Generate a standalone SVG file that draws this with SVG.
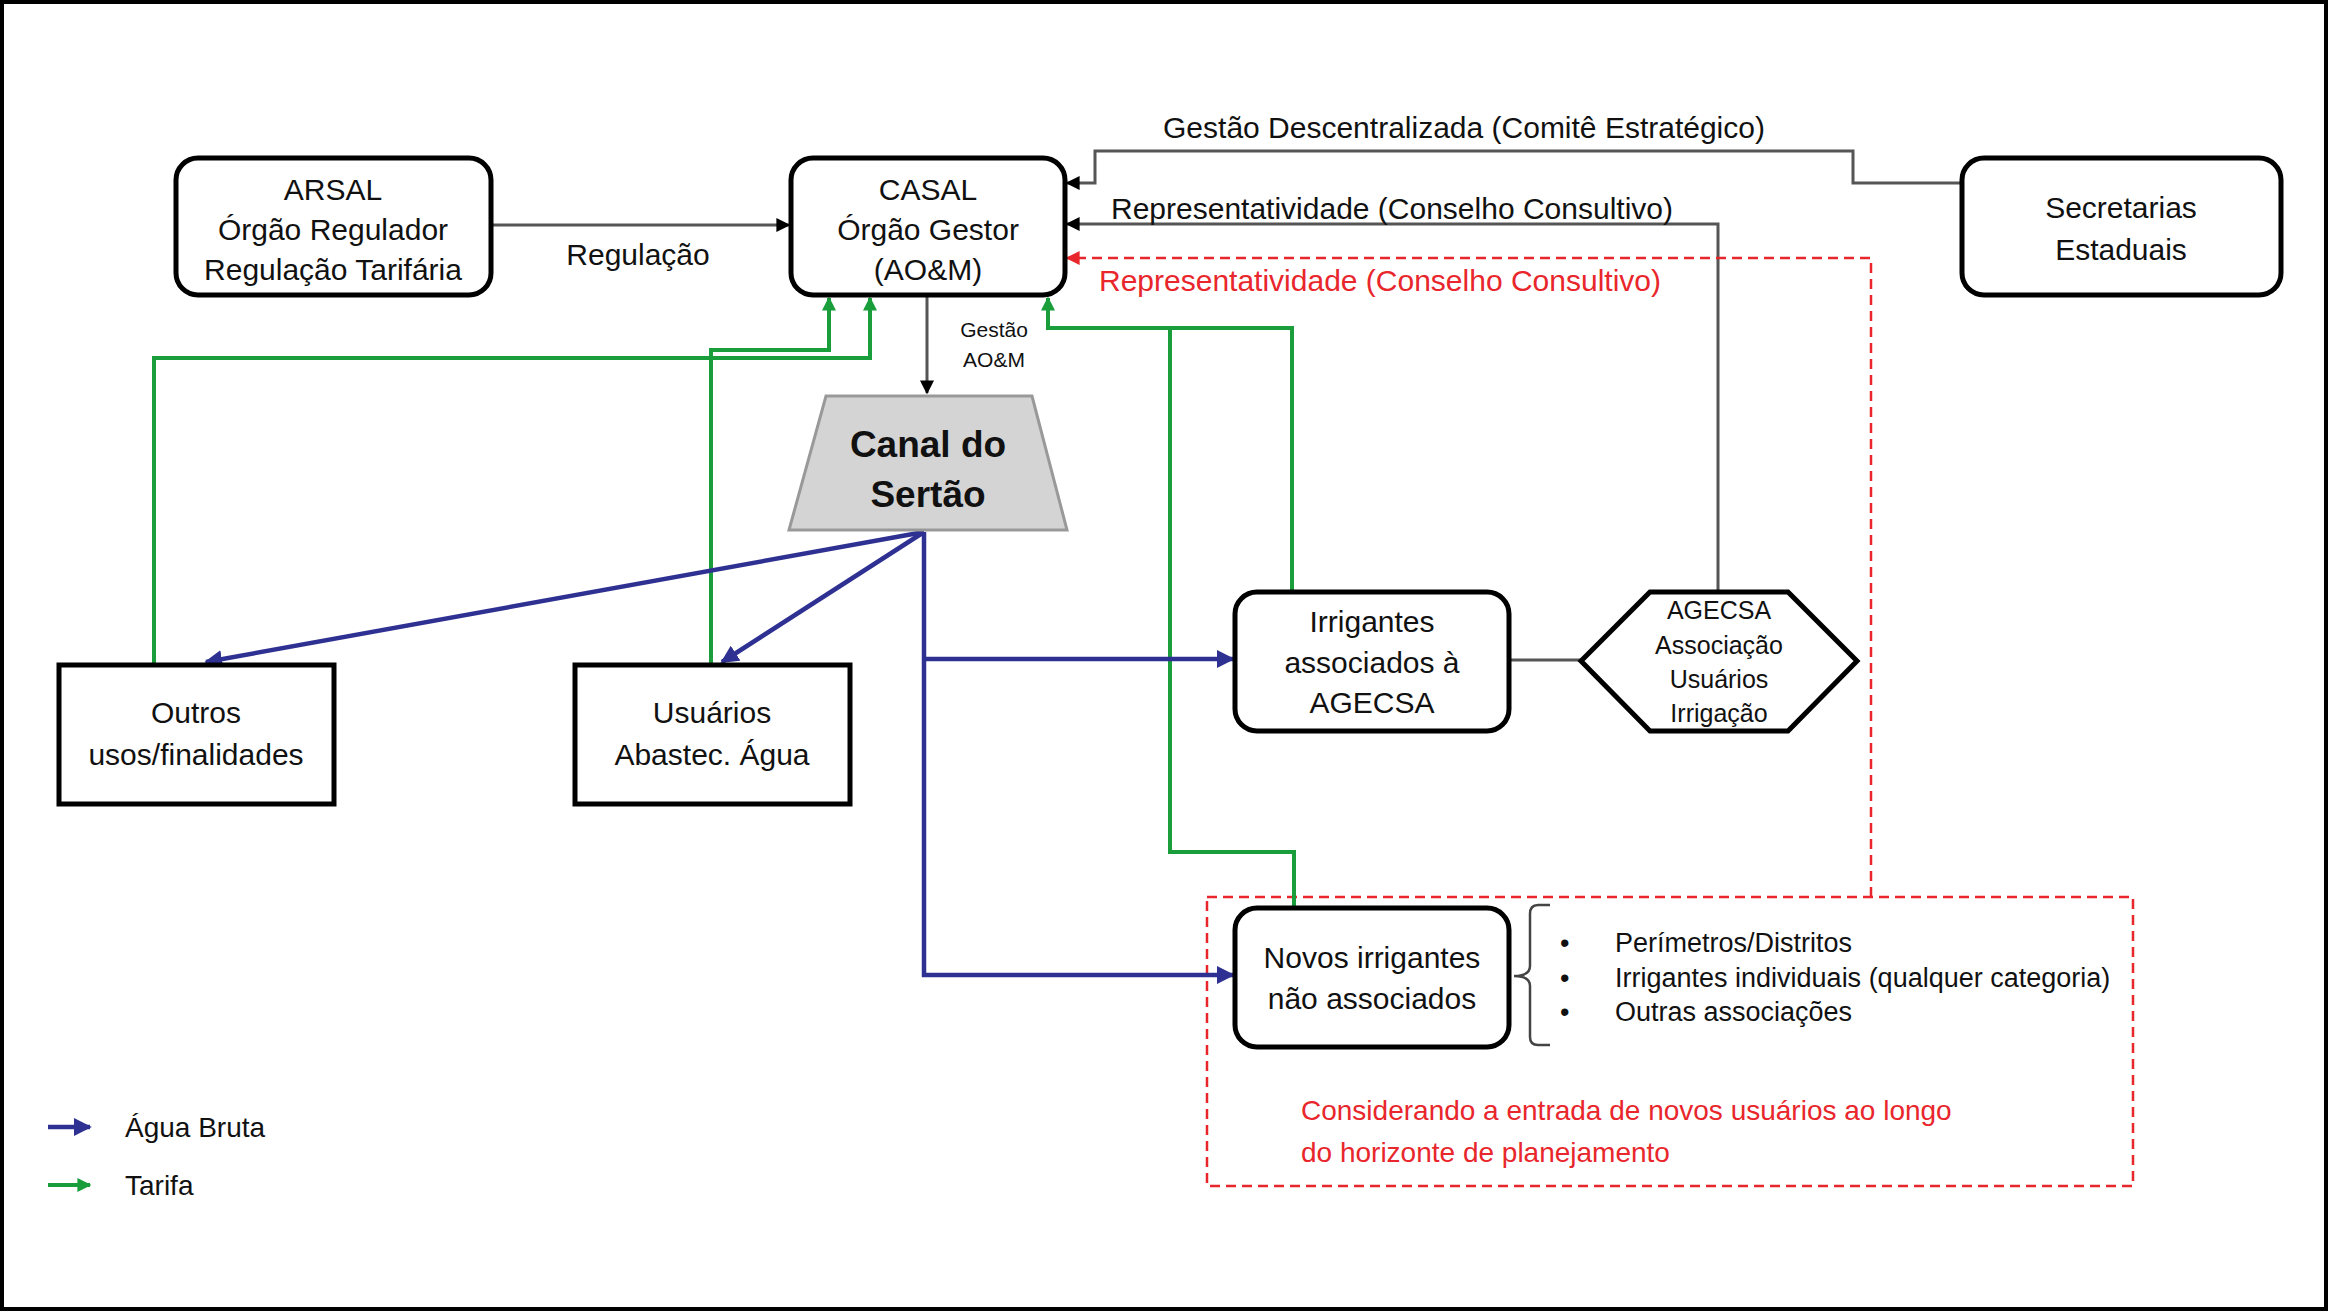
<svg xmlns="http://www.w3.org/2000/svg" width="2328" height="1312" viewBox="0 0 2328 1312">
<style>
.t{font-family:"Liberation Sans",Arial,sans-serif;font-size:30px;fill:#111;text-anchor:middle}
.s{font-size:27px;text-anchor:start}
.box{fill:#fff;stroke:#000;stroke-width:5}
.gray{fill:none;stroke:#555;stroke-width:3}
.grn{fill:none;stroke:#1a9e3c;stroke-width:4}
.blu{fill:none;stroke:#2e3192;stroke-width:4.5}
.red{fill:none;stroke:#e8262b;stroke-width:2.5;stroke-dasharray:10 6}
.rt{fill:#e8262b}
</style>
<defs>
<marker id="ak" viewBox="0 0 10 10" refX="9" refY="5" markerWidth="14" markerHeight="14" markerUnits="userSpaceOnUse" orient="auto"><path d="M0,0 L10,5 L0,10 z" fill="#000"/></marker>
<marker id="ag" viewBox="0 0 10 10" refX="9" refY="5" markerWidth="14" markerHeight="14" markerUnits="userSpaceOnUse" orient="auto"><path d="M0,0 L10,5 L0,10 z" fill="#1a9e3c"/></marker>
<marker id="ab" viewBox="0 0 10 10" refX="9" refY="5" markerWidth="18" markerHeight="18" markerUnits="userSpaceOnUse" orient="auto"><path d="M0,0 L10,5 L0,10 z" fill="#2e3192"/></marker>
<marker id="ar" viewBox="0 0 10 10" refX="9" refY="5" markerWidth="14" markerHeight="14" markerUnits="userSpaceOnUse" orient="auto"><path d="M0,0 L10,5 L0,10 z" fill="#e8262b"/></marker>
</defs>
<rect x="0" y="0" width="2328" height="1312" fill="#fff"/>
<rect x="2" y="2" width="2324" height="1307" fill="none" stroke="#000" stroke-width="4"/>

<g id="frame-new">
<rect x="1207" y="897" width="926" height="289" class="red"/>
<text class="t rt" x="1301" y="1120" style="text-anchor:start;font-size:28px;fill:#e8262b">Considerando a entrada de novos usuários ao longo</text>
<text class="t rt" x="1301" y="1162" style="text-anchor:start;font-size:28px;fill:#e8262b">do horizonte de planejamento</text>
</g>

<g id="connectors">
<path class="gray" d="M491,225 H789" marker-end="url(#ak)"/>
<path class="gray" d="M1962,183 H1853 V151 H1095 V183 H1067" marker-end="url(#ak)"/>
<path class="gray" d="M1718,591 V224 H1067" marker-end="url(#ak)"/>
<path class="red" d="M1871,897 V258 H1067" marker-end="url(#ar)"/>
<path class="gray" d="M927,297 V393" stroke-width="2" marker-end="url(#ak)"/>
<path class="gray" d="M1509,660 H1581"/>
<path class="grn" d="M154,664 V358 H870 V298" marker-end="url(#ag)"/>
<path class="grn" d="M711,664 V350 H829 V298" marker-end="url(#ag)"/>
<path class="grn" d="M1292,591 V328 H1048 V298" marker-end="url(#ag)"/>
<path class="grn" d="M1294,907 V852 H1170 V328"/>
<path class="blu" d="M924,532 L206,662" marker-end="url(#ab)"/>
<path class="blu" d="M924,532 L722,662" marker-end="url(#ab)"/>
<path class="blu" d="M924,532 V975 H1233" marker-end="url(#ab)"/>
<path class="blu" d="M924,659 H1233" marker-end="url(#ab)"/>
<text class="t" x="994" y="337" style="font-size:21px">Gestão</text>
<text class="t" x="994" y="367" style="font-size:21px">AO&amp;M</text>
<text class="t" x="638" y="265">Regulação</text>
<text class="t" x="1464" y="138">Gestão Descentralizada (Comitê Estratégico)</text>
<text class="t" x="1392" y="219">Representatividade (Conselho Consultivo)</text>
<text class="t" x="1380" y="291" style="fill:#e8262b">Representatividade (Conselho Consultivo)</text>
</g>

<g id="arsal">
<rect class="box" x="176" y="158" width="315" height="137" rx="22"/>
<text class="t" x="333" y="200">ARSAL</text>
<text class="t" x="333" y="240">Órgão Regulador</text>
<text class="t" x="333" y="280">Regulação Tarifária</text>
</g>

<g id="casal">
<rect class="box" x="791" y="158" width="274" height="137" rx="22"/>
<text class="t" x="928" y="200">CASAL</text>
<text class="t" x="928" y="240">Órgão Gestor</text>
<text class="t" x="928" y="280">(AO&amp;M)</text>
</g>

<g id="secretarias">
<rect class="box" x="1962" y="158" width="319" height="137" rx="22"/>
<text class="t" x="2121" y="218">Secretarias</text>
<text class="t" x="2121" y="260">Estaduais</text>
</g>

<g id="canal">
<path d="M826,396 H1032 L1067,530 H789 Z" fill="#d4d4d4" stroke="#999" stroke-width="3"/>
<text class="t" x="928" y="457" style="font-size:37px;font-weight:bold">Canal do</text>
<text class="t" x="928" y="507" style="font-size:37px;font-weight:bold">Sertão</text>
</g>

<g id="outros">
<rect class="box" x="59" y="665" width="275" height="139"/>
<text class="t" x="196" y="723">Outros</text>
<text class="t" x="196" y="765">usos/finalidades</text>
</g>

<g id="usuarios">
<rect class="box" x="575" y="665" width="275" height="139"/>
<text class="t" x="712" y="723">Usuários</text>
<text class="t" x="712" y="765">Abastec. Água</text>
</g>

<g id="irrigantes">
<rect class="box" x="1235" y="592" width="274" height="139" rx="22"/>
<text class="t" x="1372" y="632">Irrigantes</text>
<text class="t" x="1372" y="673">associados à</text>
<text class="t" x="1372" y="713">AGECSA</text>
</g>

<g id="agecsa">
<path d="M1650,592 H1788 L1857,661 L1788,731 H1650 L1581,661 Z" fill="#fff" stroke="#000" stroke-width="5"/>
<text class="t" x="1719" y="619" style="font-size:25px">AGECSA</text>
<text class="t" x="1719" y="654" style="font-size:25px">Associação</text>
<text class="t" x="1719" y="688" style="font-size:25px">Usuários</text>
<text class="t" x="1719" y="722" style="font-size:25px">Irrigação</text>
</g>

<g id="novos">
<rect class="box" x="1235" y="908" width="274" height="139" rx="22"/>
<text class="t" x="1372" y="968">Novos irrigantes</text>
<text class="t" x="1372" y="1009">não associados</text>
</g>

<g id="lista">
<path d="M1550,905 H1538 Q1530,905 1530,914 V966 Q1530,976 1514,976 Q1530,976 1530,986 V1037 Q1530,1045 1538,1045 H1550" fill="none" stroke="#444" stroke-width="2.5"/>
<text class="t s" x="1560" y="952">•</text>
<text class="t s" x="1560" y="987">•</text>
<text class="t s" x="1560" y="1021">•</text>
<text class="t s" x="1615" y="952">Perímetros/Distritos</text>
<text class="t s" x="1615" y="987">Irrigantes individuais (qualquer categoria)</text>
<text class="t s" x="1615" y="1021">Outras associações</text>
</g>

<g id="legend">
<path class="blu" d="M48,1127 H90" marker-end="url(#ab)"/>
<path class="grn" d="M48,1185 H90" marker-end="url(#ag)"/>
<text class="t" x="125" y="1137" style="text-anchor:start;font-size:28px">Água Bruta</text>
<text class="t" x="125" y="1195" style="text-anchor:start;font-size:28px">Tarifa</text>
</g>
</svg>
